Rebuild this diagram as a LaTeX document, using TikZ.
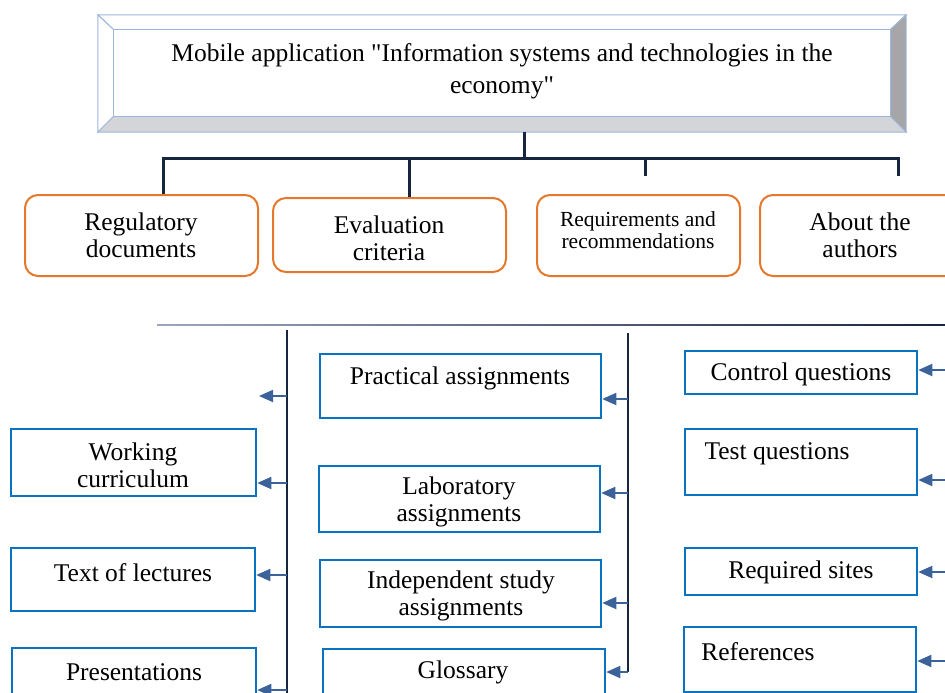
\documentclass[tikz,border=0pt]{standalone}
\usepackage{fontspec}
\setmainfont{Liberation Serif}[Ligatures=TeXOff]
\usetikzlibrary{arrows.meta,calc}
\definecolor{navy}{HTML}{17253F}
\definecolor{boxblue}{HTML}{0A72C0}
\definecolor{arrblue}{HTML}{3C6399}
\definecolor{orng}{HTML}{E5782A}
\definecolor{bevline}{HTML}{9DB6DB}
\definecolor{hline}{HTML}{3A4C7E}
\begin{document}
\begin{tikzpicture}[x=1pt,y=-1pt,
  obox/.style={draw=orng,line width=2pt,rounded corners=13pt,inner sep=0pt},
  bbox/.style={draw=boxblue,line width=2.5pt,inner sep=0pt},
  txt/.style={inner sep=0pt,align=center,font=\fontsize{25.5}{27}\selectfont},
  stxt/.style={inner sep=0pt,align=center,font=\fontsize{21.5}{22}\selectfont},
  tree/.style={draw=navy,line width=3pt},
  vline/.style={draw=navy,line width=2pt},
  arr/.style={draw=arrblue,line width=1.8pt,-{Triangle[length=14pt,width=12pt]}}
]
\useasboundingbox (0,0) rectangle (945,693);
\clip (0,0) rectangle (945,693);

% ---- title box with bevel
\node[minimum width=808pt,minimum height=117pt,inner sep=0pt] (title) at (502,73.5) {};
\coordinate (onw) at (title.north west);
\coordinate (one) at (title.north east);
\coordinate (osw) at (title.south west);
\coordinate (ose) at (title.south east);
\coordinate (inw) at ($(onw)+(16,15)$);
\coordinate (ine) at ($(one)+(-16,15)$);
\coordinate (isw) at ($(osw)+(16,-16)$);
\coordinate (ise) at ($(ose)+(-16,-16)$);
\filldraw[fill=white,draw=bevline,line width=1pt] (onw) -- (one) -- (ine) -- (inw) -- cycle;
\filldraw[fill=white,draw=bevline,line width=1pt] (onw) -- (inw) -- (isw) -- (osw) -- cycle;
\filldraw[fill={rgb,255:red,166;green,166;blue,168},draw=bevline,line width=1pt] (one) -- (ose) -- (ise) -- (ine) -- cycle;
\filldraw[fill={rgb,255:red,211;green,213;blue,216},draw=bevline,line width=1pt] (osw) -- (ose) -- (ise) -- (isw) -- cycle;
\filldraw[fill=white,draw=bevline,line width=1pt] (inw) rectangle (ise);
\node[txt,font=\fontsize{25.5}{32}\selectfont] (titletext) at (502,71) {Mobile application "Information systems and technologies in the\\economy"};

% ---- orange boxes
\node[obox,minimum width=233pt,minimum height=81pt] (reg) at (141.5,235.5) {};
\node[txt] at (141,235) {Regulatory\\documents};
\node[obox,minimum width=233pt,minimum height=74pt] (eval) at (389.5,235) {};
\node[txt] at (389,238) {Evaluation\\criteria};
\node[obox,minimum width=203pt,minimum height=81pt] (req) at (638.5,235.5) {};
\node[stxt] at (638,230.5) {Requirements and\\recommendations};
\node[obox,minimum width=240pt,minimum height=81pt] (about) at (880,235.5) {};
\node[txt] at (860,235) {About the\\authors};

% ---- tree
\coordinate (tj) at (524,158);
\coordinate (tl) at (163,158);
\coordinate (tr) at (898,158);
\coordinate (s3) at (645,176);
\coordinate (s4) at (898,176);
\draw[tree] (title.south -| tj) -- (tj);
\draw[tree] (reg.north -| tl) -- (tl) -- (tr) -- (s4);
\draw[tree] (eval.north) ++(19.5,0) coordinate (ed) -- (ed |- tj);
\draw[tree] (s3) -- (s3 |- tj);

% ---- horizontal separator
\shade[left color=hline!50!white,right color=navy] (157,324.2) rectangle (945,325.8);

% ---- vertical distribution lines
\coordinate (L1) at (287,330);
\coordinate (L2) at (287,693);
\coordinate (M1) at (628,333);
\coordinate (M2) at (628,672);
\draw[vline] (L1) -- (L2);
\draw[vline] (M1) -- (M2);

% ---- middle boxes
\node[bbox,minimum width=281pt,minimum height=64pt] (pa) at (460.5,386) {};
\node[txt] at (460,378) {Practical assignments};
\node[bbox,minimum width=281pt,minimum height=66pt] (la) at (459.5,499) {};
\node[txt] at (459,502) {Laboratory\\assignments};
\node[bbox,minimum width=281pt,minimum height=67pt] (isa) at (460.5,593.5) {};
\node[txt] at (461,596) {Independent study\\assignments};
\node[bbox,minimum width=282pt,minimum height=71pt] (gl) at (464,684.5) {};
\node[txt] at (463,672) {Glossary};

% ---- left boxes
\node[bbox,minimum width=245pt,minimum height=67pt] (wc) at (133.5,462.5) {};
\node[txt] at (133,465) {Working\\curriculum};
\node[bbox,minimum width=244pt,minimum height=63pt] (tlec) at (133,579.5) {};
\node[txt] at (133,573) {Text of lectures};
\node[bbox,minimum width=244pt,minimum height=72pt] (pr) at (134,684) {};
\node[txt] at (134,672) {Presentations};

% ---- right boxes
\node[bbox,minimum width=232pt,minimum height=43pt] (cq) at (801,372.5) {};
\node[txt] at (801,374) {Control questions};
\node[bbox,minimum width=232pt,minimum height=66pt] (tq) at (801,462) {};
\node[txt] at (777,454) {Test questions};
\node[bbox,minimum width=232pt,minimum height=47pt] (rs) at (801,571.5) {};
\node[txt] at (801,572) {Required sites};
\node[bbox,minimum width=232pt,minimum height=65pt] (ref) at (800,659.5) {};
\node[txt] at (758,652) {References};

% ---- arrows from middle line
\coordinate (m1) at (628,399);
\coordinate (m2) at (628,493);
\coordinate (m3) at (628,603);
\coordinate (m4) at (628,672);
\draw[arr] (m1) -- (m1 -| pa.east);
\draw[arr] (m2) -- (m2 -| la.east);
\draw[arr] (m3) -- (m3 -| isa.east);
\draw[arr] (m4) -- (m4 -| gl.east);

% ---- arrows from left line
\coordinate (l0) at (287,396);
\coordinate (l0e) at (259,396);
\coordinate (l1) at (287,483);
\coordinate (l2) at (287,575);
\coordinate (l3) at (287,690);
\draw[arr] (l0) -- (l0e);
\draw[arr] (l1) -- (l1 -| wc.east);
\draw[arr] (l2) -- (l2 -| tlec.east);
\draw[arr] (l3) -- (l3 -| pr.east);

% ---- arrows from right edge
\coordinate (r1) at (947,370);
\coordinate (r2) at (947,480);
\coordinate (r3) at (947,572);
\coordinate (r4) at (947,661);
\draw[arr] (r1) -- (r1 -| cq.east);
\draw[arr] (r2) -- (r2 -| tq.east);
\draw[arr] (r3) -- (r3 -| rs.east);
\draw[arr] (r4) -- (r4 -| ref.east);
\end{tikzpicture}
\end{document}
